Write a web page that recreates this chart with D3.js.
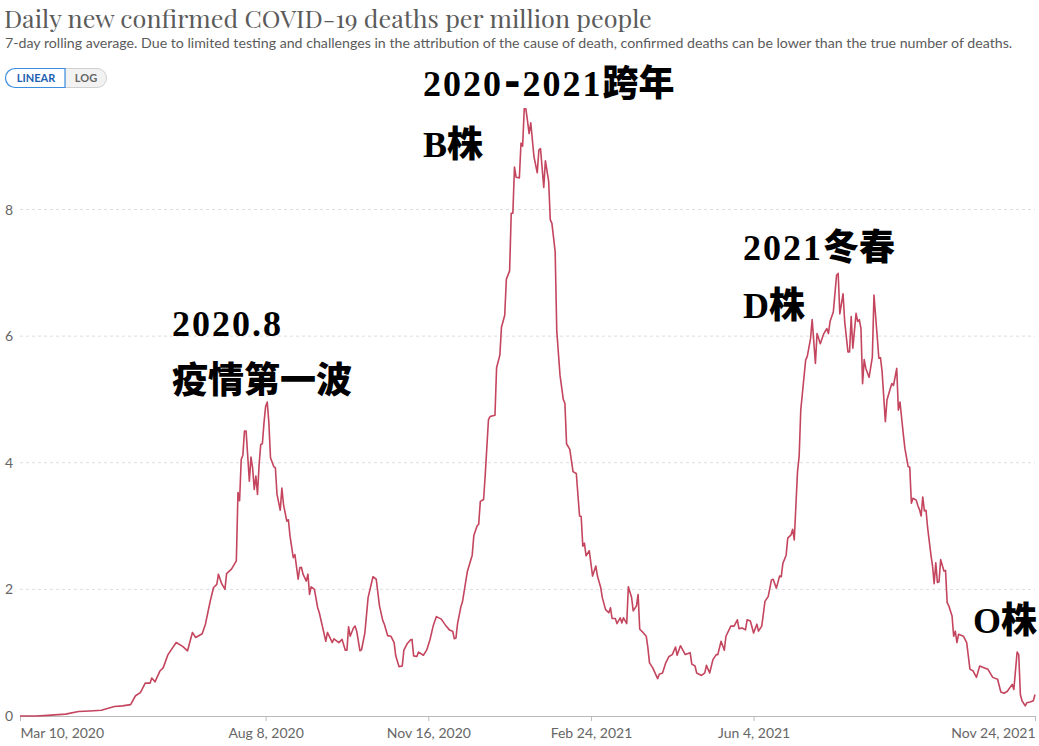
<!DOCTYPE html>
<html><head><meta charset="utf-8">
<script src="https://cdn.jsdelivr.net/npm/d3@7"></script>
<style>
html,body{margin:0;padding:0;background:#fff;}
svg{display:block;}
</style></head>
<body><svg id="chart" width="1039" height="746"></svg>
<script>
const titleText = "Daily new confirmed COVID-19 deaths per million people";
const subtitleText = "7-day rolling average. Due to limited testing and challenges in the attribution of the cause of death, confirmed deaths can be lower than the true number of deaths.";
const yTicks = [0, 2, 4, 6, 8];
const xTickDates = ["2020-03-10", "2020-08-08", "2020-11-16", "2021-02-24", "2021-06-04", "2021-11-24"];
const xTickLabels = ["Mar 10, 2020", "Aug 8, 2020", "Nov 16, 2020", "Feb 24, 2021", "Jun 4, 2021", "Nov 24, 2021"];
const annotationLines = [["2020.8", "疫情第一波"], ["2020-2021跨年", "B株"], ["2021冬春", "D株"], ["O株"]];

const dates = [
"2020-03-10","2020-03-20","2020-03-27","2020-04-07","2020-04-15","2020-04-22","2020-04-29","2020-05-07","2020-05-12","2020-05-17",
"2020-05-20","2020-05-23","2020-05-26","2020-05-29","2020-05-30","2020-06-01","2020-06-04","2020-06-06","2020-06-09","2020-06-14",
"2020-06-18","2020-06-21","2020-06-24","2020-06-26","2020-06-30","2020-07-02","2020-07-05","2020-07-07","2020-07-09","2020-07-10",
"2020-07-12","2020-07-14","2020-07-15","2020-07-18","2020-07-21","2020-07-22","2020-07-23","2020-07-24","2020-07-25","2020-07-26",
"2020-07-27","2020-07-29","2020-07-30","2020-07-31","2020-08-01","2020-08-02","2020-08-03","2020-08-04","2020-08-05","2020-08-06",
"2020-08-07","2020-08-08","2020-08-09","2020-08-10","2020-08-11","2020-08-13","2020-08-14","2020-08-15","2020-08-17","2020-08-18",
"2020-08-19","2020-08-21","2020-08-22","2020-08-23","2020-08-25","2020-08-26","2020-08-28","2020-08-29","2020-08-30","2020-08-31",
"2020-09-02","2020-09-03","2020-09-04","2020-09-05","2020-09-07","2020-09-09","2020-09-10","2020-09-14","2020-09-15","2020-09-18",
"2020-09-19","2020-09-22","2020-09-24","2020-09-26","2020-09-27","2020-09-28","2020-09-29","2020-10-01","2020-10-02","2020-10-03",
"2020-10-05","2020-10-06","2020-10-08","2020-10-10","2020-10-13","2020-10-15","2020-10-17","2020-10-19","2020-10-20","2020-10-22",
"2020-10-24","2020-10-26","2020-10-27","2020-10-29","2020-10-31","2020-11-01","2020-11-03","2020-11-05","2020-11-06","2020-11-07",
"2020-11-09","2020-11-10","2020-11-13","2020-11-15","2020-11-17","2020-11-19","2020-11-21","2020-11-24","2020-11-27","2020-11-29",
"2020-12-01","2020-12-02","2020-12-03","2020-12-04","2020-12-06","2020-12-07","2020-12-10","2020-12-13","2020-12-14","2020-12-16",
"2020-12-17","2020-12-18","2020-12-20","2020-12-21","2020-12-23","2020-12-24","2020-12-27","2020-12-28","2020-12-30","2020-12-31",
"2021-01-02","2021-01-03","2021-01-05","2021-01-06","2021-01-07","2021-01-08","2021-01-09","2021-01-11","2021-01-12","2021-01-13",
"2021-01-14","2021-01-15","2021-01-16","2021-01-17","2021-01-18","2021-01-20","2021-01-22","2021-01-23","2021-01-24","2021-01-26",
"2021-01-27","2021-01-29","2021-01-30","2021-01-31","2021-02-02","2021-02-03","2021-02-05","2021-02-07","2021-02-08","2021-02-09",
"2021-02-11","2021-02-13","2021-02-15","2021-02-17","2021-02-18","2021-02-19","2021-02-20","2021-02-21","2021-02-23","2021-02-25",
"2021-02-27","2021-02-28","2021-03-02","2021-03-03","2021-03-05","2021-03-07","2021-03-08","2021-03-09","2021-03-11","2021-03-12",
"2021-03-14","2021-03-15","2021-03-16","2021-03-18","2021-03-19","2021-03-21","2021-03-22","2021-03-24","2021-03-25","2021-03-26",
"2021-03-28","2021-03-30","2021-03-31","2021-04-01","2021-04-03","2021-04-06","2021-04-07","2021-04-09","2021-04-11","2021-04-13",
"2021-04-15","2021-04-17","2021-04-18","2021-04-20","2021-04-23","2021-04-26","2021-04-27","2021-04-29","2021-04-30","2021-05-03",
"2021-05-05","2021-05-06","2021-05-08","2021-05-10","2021-05-12","2021-05-13","2021-05-15","2021-05-17","2021-05-18","2021-05-21",
"2021-05-23","2021-05-25","2021-05-26","2021-05-28","2021-05-30","2021-05-31","2021-06-02","2021-06-04","2021-06-06","2021-06-07",
"2021-06-09","2021-06-11","2021-06-13","2021-06-15","2021-06-16","2021-06-18","2021-06-20","2021-06-21","2021-06-22","2021-06-24",
"2021-06-25","2021-06-27","2021-06-28","2021-06-29","2021-07-01","2021-07-02","2021-07-03","2021-07-06","2021-07-07","2021-07-09",
"2021-07-10","2021-07-12","2021-07-13","2021-07-15","2021-07-17","2021-07-19","2021-07-20","2021-07-21","2021-07-23","2021-07-25",
"2021-07-26","2021-07-27","2021-07-29","2021-07-30","2021-08-01","2021-08-02","2021-08-03","2021-08-04","2021-08-06","2021-08-07",
"2021-08-08","2021-08-09","2021-08-10","2021-08-11","2021-08-12","2021-08-14","2021-08-16","2021-08-17","2021-08-19","2021-08-20",
"2021-08-21","2021-08-22","2021-08-24","2021-08-25","2021-08-27","2021-08-28","2021-08-29","2021-08-31","2021-09-01","2021-09-02",
"2021-09-04","2021-09-05","2021-09-07","2021-09-08","2021-09-09","2021-09-10","2021-09-12","2021-09-13","2021-09-14","2021-09-15",
"2021-09-16","2021-09-17","2021-09-18","2021-09-19","2021-09-21","2021-09-22","2021-09-23","2021-09-24","2021-09-25","2021-09-26",
"2021-09-27","2021-09-29","2021-09-30","2021-10-01","2021-10-02","2021-10-04","2021-10-05","2021-10-06","2021-10-07","2021-10-08",
"2021-10-11","2021-10-13","2021-10-15","2021-10-17","2021-10-19","2021-10-21","2021-10-24","2021-10-26","2021-10-29","2021-11-01",
"2021-11-03","2021-11-05","2021-11-07","2021-11-10","2021-11-11","2021-11-13","2021-11-14","2021-11-15","2021-11-16","2021-11-18",
"2021-11-19","2021-11-21","2021-11-23","2021-11-24"
];
const deathsPerMillion = [
0.0,0.0,0.01,0.03,0.07,0.08,0.09,0.15,0.16,0.18,
0.32,0.37,0.52,0.52,0.6,0.54,0.71,0.76,0.97,1.16,
1.1,1.03,1.32,1.24,1.3,1.45,1.82,2.03,2.08,2.24,
2.09,2.0,2.25,2.32,2.45,3.53,3.4,4.05,4.12,4.5,
4.5,3.71,4.09,3.92,3.58,3.79,3.5,3.97,4.29,4.3,
4.63,4.89,4.96,4.63,4.08,3.94,3.92,3.5,3.25,3.6,
3.34,3.08,3.1,2.84,2.5,2.55,2.16,2.34,2.35,2.24,
2.13,2.24,1.92,2.04,2.0,1.71,1.63,1.18,1.32,1.16,
1.22,1.16,1.21,1.04,1.04,1.41,1.26,1.39,1.42,1.34,
1.03,1.05,1.31,1.87,2.2,2.16,1.74,1.51,1.45,1.27,
1.26,1.16,0.95,0.78,0.79,1.04,1.14,1.2,1.21,0.95,
0.94,1.01,0.96,1.04,1.2,1.42,1.57,1.53,1.42,1.36,
1.34,1.22,1.23,1.46,1.72,1.8,2.28,2.54,2.85,3.0,
3.03,3.39,3.42,3.8,4.68,4.73,4.75,5.5,5.7,6.14,
6.33,6.9,7.03,7.94,7.94,8.67,8.51,8.5,9.05,9.0,
9.59,9.59,9.4,9.2,9.37,8.83,8.58,8.94,8.96,8.35,
8.77,8.45,7.84,7.78,7.34,6.08,5.38,5.0,4.94,4.3,
4.21,3.86,3.83,3.16,3.15,2.68,2.73,2.53,2.61,2.21,
2.37,2.21,2.03,1.87,1.68,1.63,1.71,1.54,1.54,1.46,
1.55,1.47,1.55,1.46,2.04,1.87,1.66,1.74,1.92,1.37,
1.32,1.26,1.08,0.84,0.76,0.59,0.66,0.68,0.84,0.94,
0.97,1.09,0.96,1.11,0.97,1.0,0.82,0.79,0.68,0.64,
0.68,0.8,0.68,0.89,0.97,0.97,1.18,1.04,1.26,1.42,
1.42,1.52,1.38,1.39,1.36,1.52,1.5,1.31,1.45,1.34,
1.42,1.81,1.89,2.15,2.16,2.02,2.21,2.2,2.41,2.54,
2.81,2.86,2.95,2.78,3.86,4.1,4.83,5.62,5.68,5.96,
6.26,5.57,6.04,5.88,6.03,6.12,6.04,6.23,6.38,6.96,
6.99,6.35,6.67,6.23,5.75,5.75,6.31,5.81,6.36,6.23,
6.26,6.12,5.25,5.63,5.49,5.35,5.67,6.65,5.99,5.65,
5.66,5.44,4.65,4.99,5.17,5.25,5.22,5.49,4.83,4.96,
4.46,4.23,3.94,3.93,3.36,3.44,3.41,3.32,3.26,3.16,
3.46,3.24,3.25,2.97,2.55,2.37,2.09,2.42,2.11,2.12,
2.47,2.29,2.3,1.79,1.74,1.58,1.26,1.34,1.16,1.29,
1.26,1.16,0.74,0.71,0.61,0.79,0.76,0.74,0.61,0.58,
0.38,0.36,0.39,0.5,0.42,1.01,0.97,0.34,0.24,0.16,
0.21,0.22,0.24,0.34
];

const parse = d3.utcParse("%Y-%m-%d");
const data = dates.map((d, i) => ({date: parse(d), value: deathsPerMillion[i]}));

const svg = d3.select("#chart");
svg.append("rect").attr("width", 1039).attr("height", 746).attr("fill", "#fff");

const x = d3.scaleUtc().domain([parse("2020-03-10"), parse("2021-11-24")]).range([20, 1035]);
const y = d3.scaleLinear().domain([0, 8]).range([716, 209.5]);

function fitText(sel, targetW, baseSize) {
  const w = sel.node().getComputedTextLength();
  sel.attr("font-size", (baseSize * targetW / w).toFixed(2));
}
const title = svg.append("text").attr("x", 4).attr("y", 28)
  .attr("font-family", "'Playfair Display','Liberation Serif','DejaVu Serif',serif")
  .attr("font-size", 24).attr("fill", "#5b5b5b").text(titleText);
fitText(title, 648, 24);
const sub = svg.append("text").attr("x", 5).attr("y", 48)
  .attr("font-family", "Lato,'Open Sans',sans-serif")
  .attr("font-size", 13).attr("fill", "#5b5b5b").text(subtitleText);
fitText(sub, 1008, 13);

// buttons
const btn = svg.append("g");
btn.append("path").attr("d", "M65,68.5 H97 a9.5,9.5 0 0 1 0,19 H65 Z").attr("fill", "#f2f2f2").attr("stroke", "#d0d0d0");
btn.append("path").attr("d", "M65,68.5 H15 a9.5,9.5 0 0 0 0,19 H65 Z").attr("fill", "#fff").attr("stroke", "#3b8ee0").attr("stroke-width", 1.2);
btn.append("text").attr("x", 36).attr("y", 82).attr("text-anchor", "middle")
  .attr("font-family", "Lato,sans-serif").attr("font-weight", "bold").attr("font-size", 11).attr("fill", "#1d5fb3").text("LINEAR");
btn.append("text").attr("x", 86).attr("y", 82).attr("text-anchor", "middle")
  .attr("font-family", "Lato,sans-serif").attr("font-weight", "bold").attr("font-size", 11).attr("fill", "#666").text("LOG");

// gridlines
svg.append("g").selectAll("line").data(yTicks.filter(t => t > 0)).join("line")
  .attr("x1", 20).attr("x2", 1035).attr("y1", d => y(d)).attr("y2", d => y(d))
  .attr("stroke", "#ddd").attr("stroke-dasharray", "3,3");
svg.append("g").selectAll("text").data(yTicks).join("text")
  .attr("x", 5).attr("y", d => y(d) + 5)
  .attr("font-family", "Lato,sans-serif").attr("font-size", 14).attr("fill", "#666")
  .text(d => d);

// x axis
const xAxis = d3.axisBottom(x)
  .tickValues(xTickDates.map(parse))
  .tickFormat((d, i) => xTickLabels[i])
  .tickSize(5).tickSizeOuter(0);
const gx = svg.append("g").attr("transform", "translate(0,716)").call(xAxis);
gx.select(".domain").attr("stroke", "#bbb");
gx.selectAll(".tick line").attr("stroke", "#bbb");
gx.selectAll(".tick text").attr("font-family", "Lato,sans-serif").attr("font-size", 14)
  .attr("fill", "#666").attr("dy", "0.85em").attr("y", 10);
gx.selectAll(".tick text").filter((d, i) => i === 0).attr("text-anchor", "start");
gx.selectAll(".tick text").filter((d, i) => i === xTickDates.length - 1).attr("text-anchor", "end");

// line
const line = d3.line().x(d => x(d.date)).y(d => y(d.value));
svg.append("path").datum(data).attr("d", line)
  .attr("fill", "none").attr("stroke", "#c4455e").attr("stroke-width", 1.6)
  .attr("stroke-linejoin", "round");

// annotations
const annoPos = [[172, 336, 393], [423, 96, 157], [743, 260, 318], [973, 633]];
annotationLines.forEach((lines, k) => {
  const p = annoPos[k];
  lines.forEach((t, j) => {
    const tx = svg.append("text").attr("x", p[0]).attr("y", p[1 + j])
      .attr("font-family", "'Liberation Serif','Noto Sans CJK SC',serif")
      .attr("font-weight", "bold").attr("font-size", 36).attr("fill", "#000");
    const parts = t.match(/-|[\x00-\x2C\x2E-\x7F]+|[^\x00-\x7F]+/g);
    parts.forEach(s => {
      const ts = tx.append("tspan").text(s);
      if (s === "-") ts.attr("font-family", "'DejaVu Sans',sans-serif").attr("font-size", 40).attr("dx", 1).attr("letter-spacing", "2px");
      else if (/^[\x00-\x7F]+$/.test(s)) ts.attr("letter-spacing", s.length > 1 ? "2px" : "0px");
      else ts.attr("font-family", "'Noto Sans CJK SC',sans-serif").attr("font-weight", 900).attr("font-size", 36);
    });
  });
});
</script></body></html>
